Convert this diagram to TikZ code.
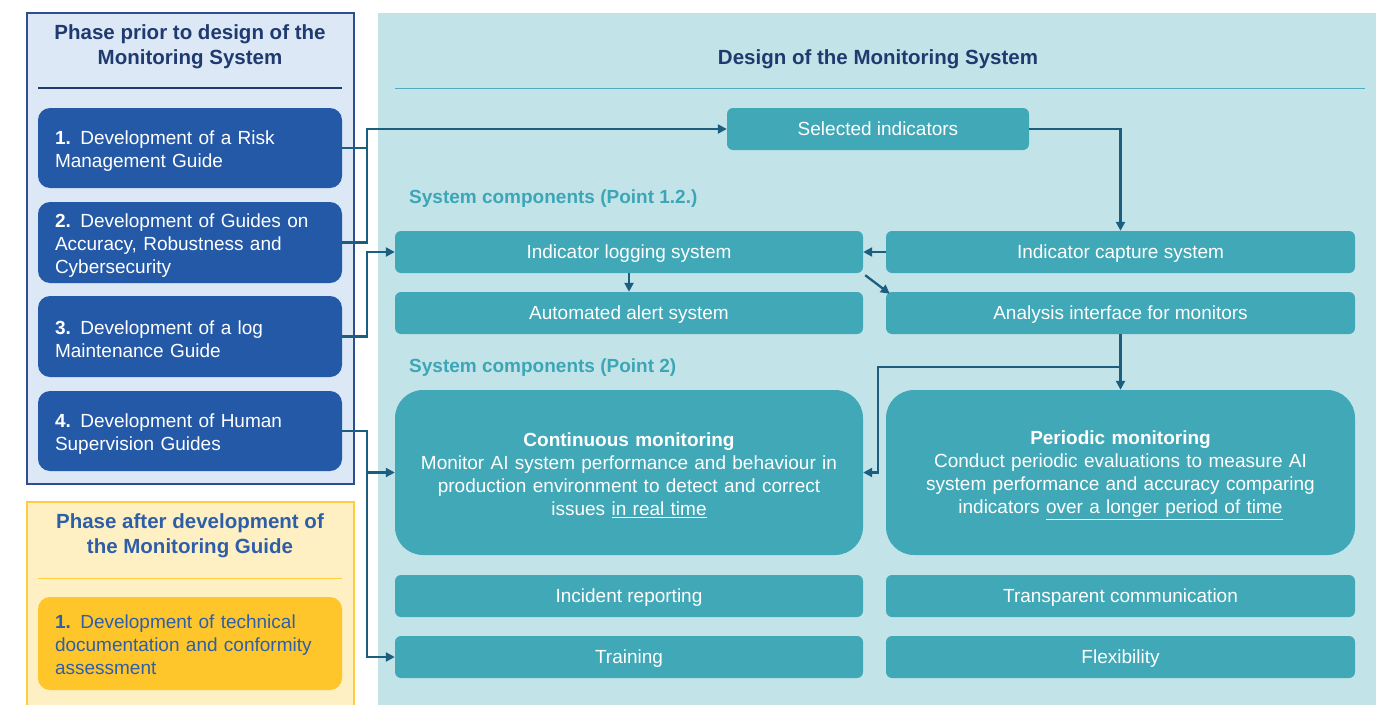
\documentclass[tikz,border=0pt]{standalone}
\usepackage{fontspec}
\setmainfont{Liberation Sans}
\usetikzlibrary{arrows.meta,calc}
\definecolor{pbfill}{HTML}{DCE8F6}
\definecolor{pbline}{HTML}{2F4E8E}
\definecolor{dbox}{HTML}{2459A8}
\definecolor{navy}{HTML}{1F3A6E}
\definecolor{yfill}{HTML}{FEF0C3}
\definecolor{yline}{HTML}{FFCC44}
\definecolor{ybox}{HTML}{FFC62B}
\definecolor{ytext}{HTML}{2F5EA9}
\definecolor{tpanel}{HTML}{C2E4E8}
\definecolor{tbox}{HTML}{41A8B7}
\definecolor{tline}{HTML}{4BAFC0}
\definecolor{conn}{HTML}{1C5E80}
\definecolor{tlabel}{HTML}{3DA6B6}
\newcommand\lift[1]{\rule{0pt}{#1}}
\tikzset{
  body/.style={font=\fontsize{19}{23}\selectfont},
  ttl/.style={font=\fontsize{20.5}{25}\selectfont\bfseries},
  tbase/.style={body, fill=tbox, text=white, inner sep=0pt, align=center},
  tealbox/.style={tbase, rounded corners=6pt, text height=15.2pt, text depth=1.5pt},
  bigbox/.style={tbase, rounded corners=28pt, text width=440pt},
  leftbox/.style={body, fill=dbox, text=white, rounded corners=12pt, inner sep=0pt, align=left, text width=270pt, minimum width=304pt},
  yelbox/.style={body, fill=ybox, text=ytext, rounded corners=12pt, inner sep=0pt, align=left, text width=270pt, minimum width=304pt},
  seclabel/.style={font=\fontsize{19}{23}\selectfont\bfseries, text=tlabel, anchor=west, inner sep=0pt},
  line/.style={draw=conn, line width=2.3pt},
  arr/.style={line, -{Triangle[length=9pt,width=9pt]}},
}
\begin{document}
\begin{tikzpicture}[x=1pt,y=-1pt]
\useasboundingbox (0,0) rectangle (1386,704);
\fill[white] (0,0) rectangle (1386,704);
% panels
\draw[fill=pbfill, draw=pbline, line width=1.5pt] (27,13) rectangle (354,484);
\draw[fill=yfill, draw=yline, line width=1.5pt] (27,502) rectangle (354,715);
\fill[tpanel] (378,13) rectangle (1376,710);
% titles
\node[ttl, text=navy, align=center] (t1) at (190,44) {\lift{21pt}Phase prior to design of the\\Monitoring System};
\draw[navy, line width=1.5pt] (38,88) -- (342,88);
\node[ttl, text=ytext, align=center] (t2) at (190,534) {\lift{19pt}Phase after development of\\the Monitoring Guide};
\draw[yline, line width=1pt] (38,578) -- (342,578);
\node[ttl, text=navy] (t3) at (878,59) {Design of the Monitoring System};
\draw[tline, line width=1pt] (395,88) -- (1365,88);
% left boxes
\node[leftbox, minimum height=80pt] (g1) at (190,148) {\lift{20pt}\textbf{1.} Development of a Risk\\Management Guide};
\node[leftbox, minimum height=81pt] (g2) at (190,242.5) {\lift{20pt}\textbf{2.} Development of Guides on\\Accuracy, Robustness and\\Cybersecurity};
\node[leftbox, minimum height=81pt] (g3) at (190,336.5) {\lift{20pt}\textbf{3.} Development of a log\\Maintenance Guide};
\node[leftbox, minimum height=80pt] (g4) at (190,431) {\lift{20pt}\textbf{4.} Development of Human\\Supervision Guides};
\node[yelbox, minimum height=93pt] (y1) at (190,643.5) {\lift{16pt}\textbf{1.} Development of technical\\documentation and conformity\\assessment};
% section labels
\node[seclabel] (s1) at (409,199) {System components (Point 1.2.)};
\node[seclabel] (s2) at (409,368) {System components (Point 2)};
% teal boxes
\node[tealbox, minimum width=302pt, minimum height=42pt] (sel) at (878,129) {Selected indicators};
\node[tealbox, minimum width=468pt, minimum height=42pt] (log) at (629,252) {Indicator logging system};
\node[tealbox, minimum width=469pt, minimum height=42pt] (cap) at (1120.5,252) {Indicator capture system};
\node[tealbox, minimum width=468pt, minimum height=42pt] (alert) at (629,313) {Automated alert system};
\node[tealbox, minimum width=469pt, minimum height=42pt] (ana) at (1120.5,313) {Analysis interface for monitors};
\node[bigbox, minimum width=468pt, minimum height=165pt] (cont) at (629,472.5) {\lift{19.5pt}\textbf{Continuous monitoring}\\Monitor AI system performance and behaviour in\\production environment to detect and correct\\issues \underline{in real time}};
\node[bigbox, minimum width=469pt, minimum height=165pt] (per) at (1120.5,472.5) {\lift{19.5pt}\textbf{Periodic monitoring}\\Conduct periodic evaluations to measure AI\\system performance and accuracy comparing\\indicators \underline{over a longer period of time}};
\node[tealbox, minimum width=468pt, minimum height=42pt] (inc) at (629,596) {Incident reporting};
\node[tealbox, minimum width=469pt, minimum height=42pt] (trans) at (1120.5,596) {Transparent communication};
\node[tealbox, minimum width=468pt, minimum height=42pt] (train) at (629,657) {Training};
\node[tealbox, minimum width=469pt, minimum height=42pt] (flex) at (1120.5,657) {Flexibility};
% connectors
\coordinate (j) at (367,0);
\draw[line] (g1.east) -- (g1.east -| j);
\draw[arr] (g2.east) -- (g2.east -| j) |- (sel.west);
\draw[arr] (g3.east) -- (g3.east -| j) |- (log.west);
\draw[arr] (g4.east) -- (g4.east -| j) |- (train.west);
\draw[arr] (j |- cont.west) -- (cont.west);
\draw[arr] (sel.east) -| (cap.north);
\draw[arr] (cap.west) -- (log.east);
\draw[arr] (log.south) -- (alert.north);
\draw[arr] ($(log.south east)+(2,2)$) -- ($(ana.north west)+(4,2)$);
\draw[arr] (ana.south) -- (per.north);
\coordinate (b) at (1120.5,367);
\coordinate (k) at (878,367);
\draw[arr] (b) -- (k) |- (cont.east);
\end{tikzpicture}
\end{document}
